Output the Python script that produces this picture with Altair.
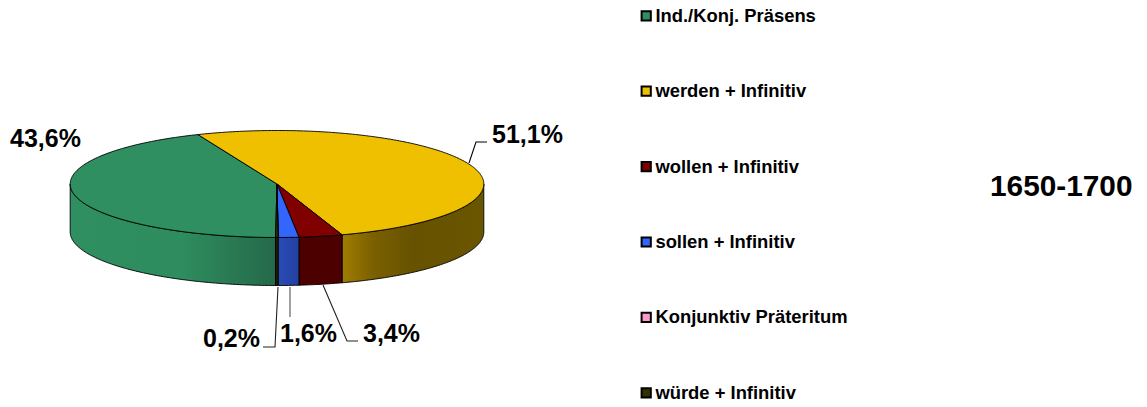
import math
import altair as alt

categories = ["Ind./Konj. Präsens", "werden + Infinitiv", "wollen + Infinitiv",
              "sollen + Infinitiv", "Konjunktiv Präteritum", "würde + Infinitiv"]
shares = [43.6, 51.1, 3.4, 1.6, 0.0, 0.2]
top_colors = ["#2F8F60", "#EEC000", "#800000", "#3366FF", "#FF99CC", "#333300"]
wall_stops = [
    [("#2F8F60", 0), ("#2E8C5E", 0.55), ("#25694A", 1)],
    [("#A07C00", 0), ("#7A6000", 0.22), ("#665200", 0.5), ("#6A5500", 1)],
    [("#4D0000", 0), ("#4D0000", 1)],
    [("#2A4CB8", 0), ("#2440A0", 1)],
    [("#994D7A", 0), ("#994D7A", 1)],
    [("#1F1F00", 0), ("#1F1F00", 1)],
]
title_text = "1650-1700"
label_texts = ["43,6%", "51,1%", "3,4%", "1,6%", "0,2%"]

# pie geometry, in the page's picture coordinates
CX, CY, RX, RY, DEPTH = 277.0, 184.0, 206.8, 53.5, 48.0
START = -179.6


def rim(theta, drop=0.0):
    a = math.radians(theta)
    return [CX + RX * math.sin(a), CY - RY * math.cos(a) + drop]


def arc(a, b, drop=0.0):
    n = max(2, int(abs(b - a)) + 2)
    return [rim(a + (b - a) * i / (n - 1), drop) for i in range(n)]


total = sum(shares)
bounds = []
cur = START
for s in shares:
    nxt = cur + s / total * 360
    bounds.append((cur, nxt))
    cur = nxt

top_features = []
wall_layers = []
for name, (a, b), stops in zip(categories, bounds, wall_stops):
    ring = [[CX, CY]] + arc(a, b) + [[CX, CY]]
    top_features.append({"type": "Feature",
                         "properties": {"name": name},
                         "geometry": {"type": "Polygon", "coordinates": [ring]}})
    # front part of the wall: 90..270 degrees
    pieces = []
    for lo, hi in [(a, b), (a + 360, b + 360), (a - 360, b - 360)]:
        l, h = max(lo, 90), min(hi, 270)
        if h > l:
            pieces.append((l, h))
    for l, h in pieces:
        poly = arc(l, h) + arc(h, l, DEPTH)
        poly.append(poly[0])
        wall_layers.append(
            alt.Chart(alt.Data(values=[{"type": "Feature", "properties": {"name": name},
                                        "geometry": {"type": "Polygon", "coordinates": [poly]}}]))
            .mark_geoshape(
                fill=alt.Gradient(gradient="linear", x1=0, x2=1, y1=0, y2=0,
                                  stops=[alt.GradientStop(color=c, offset=o) for c, o in stops]),
                stroke="#000000", strokeWidth=0.9)
        )

projection = alt.Projection(type="identity", scale=1, translate=[-8, -8])

tops = alt.Chart(alt.Data(values=top_features)).mark_geoshape(
    stroke="#000000", strokeWidth=0.9
).encode(
    fill=alt.Color("properties.name:N",
                   scale=alt.Scale(domain=categories, range=top_colors),
                   legend=alt.Legend(
                       title=None, orient="none", legendX=629, legendY=-1.2,
                       symbolType="square", symbolSize=85,
                       symbolStrokeColor="#000000", symbolStrokeWidth=2,
                       symbolOpacity=1,
                       labelFont="Liberation Sans", labelFontWeight="bold",
                       labelFontSize=18.4, labelColor="#000000", labelOffset=0,
                       labelLimit=300, rowPadding=56.4, clipHeight=18,
                       padding=0))
)

leaders = [
    ([[469, 163], [476, 142], [487, 142]], "#000000"),
    ([[278, 287], [275, 347], [263, 347]], "#222222"),
    ([[290, 287], [290, 317]], "#555555"),
    ([[323, 285], [347, 341], [358, 341]], "#222222"),
]
leader_layers = [
    alt.Chart(alt.Data(values=[{"type": "Feature", "properties": {},
                                "geometry": {"type": "LineString", "coordinates": pts}}]))
    .mark_geoshape(filled=False, stroke=col, strokeWidth=1.1)
    for pts, col in leaders
]

label_rows = [
    {"t": label_texts[0], "lon": 10, "lat": 139},
    {"t": label_texts[1], "lon": 492, "lat": 135},
    {"t": label_texts[2], "lon": 363, "lat": 334},
    {"t": label_texts[3], "lon": 280, "lat": 334},
    {"t": label_texts[4], "lon": 203, "lat": 339},
]
labels = alt.Chart(alt.Data(values=label_rows)).mark_text(
    font="Liberation Sans", fontWeight="bold", fontSize=25, color="#000000",
    align="left", baseline="middle"
).encode(longitude="lon:Q", latitude="lat:Q", text="t:N")

title = alt.Chart(alt.Data(values=[{"t": title_text, "lon": 990, "lat": 187}])).mark_text(
    font="Liberation Sans", fontWeight="bold", fontSize=29.8, color="#000000",
    align="left", baseline="middle"
).encode(longitude="lon:Q", latitude="lat:Q", text="t:N")

chart = alt.layer(
    *wall_layers, tops, *leader_layers, labels, title
).properties(
    width=1131, height=394, padding=0, projection=projection,
    autosize=alt.AutoSizeParams(type="none"),
    background="#FFFFFF",
).configure_view(stroke=None)

chart.save("out.html", embed_options={"renderer": "svg", "actions": False})
